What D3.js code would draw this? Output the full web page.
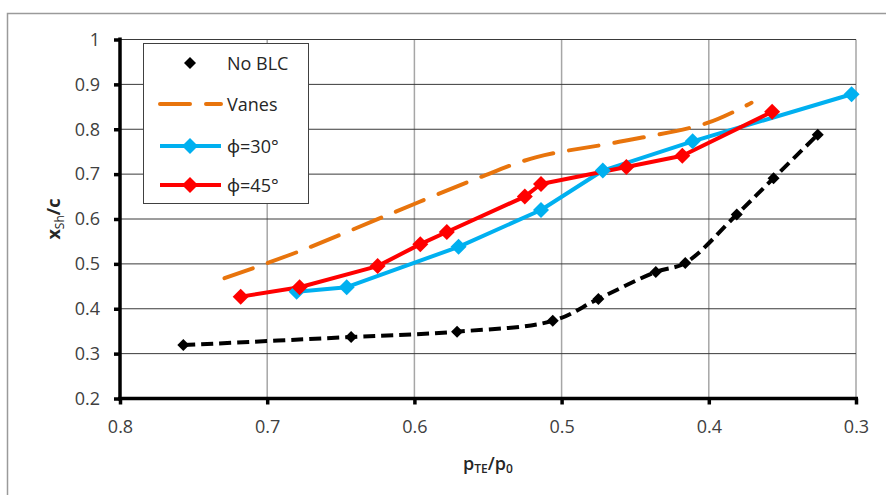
<!DOCTYPE html>
<html>
<head>
<meta charset="utf-8">
<script src="https://cdn.jsdelivr.net/npm/d3@7"></script>
<style>
  html, body { margin: 0; padding: 0; background: #fff; }
  svg { display: block; font-family: "Open Sans", "Noto Sans", sans-serif; }
</style>
</head>
<body>
<svg id="chart" width="886" height="495"></svg>
<script>
// Shock position x_Sh/c against trailing-edge pressure ratio p_TE/p_0
const noBLC = [
  [0.757, 0.319], [0.643, 0.337], [0.571, 0.349], [0.506, 0.373], [0.475, 0.422],
  [0.436, 0.482], [0.416, 0.502], [0.381, 0.610], [0.356, 0.691], [0.326, 0.788]
];
const vanes = [
  [0.729, 0.468], [0.679, 0.527], [0.618, 0.609], [0.557, 0.691], [0.517, 0.738],
  [0.464, 0.770], [0.401, 0.814], [0.371, 0.859]
];
const phi30 = [
  [0.680, 0.438], [0.646, 0.448], [0.570, 0.538], [0.514, 0.620], [0.472, 0.708],
  [0.411, 0.773], [0.303, 0.878]
];
const phi45 = [
  [0.718, 0.427], [0.678, 0.448], [0.625, 0.495], [0.596, 0.544], [0.578, 0.571],
  [0.525, 0.650], [0.514, 0.678], [0.456, 0.716], [0.418, 0.741], [0.357, 0.839]
];
const xTicks = [0.8, 0.7, 0.6, 0.5, 0.4, 0.3];
const xTickLabels = ["0.8", "0.7", "0.6", "0.5", "0.4", "0.3"];
const yTicks = [0.2, 0.3, 0.4, 0.5, 0.6, 0.7, 0.8, 0.9, 1.0];
const yTickLabels = ["0.2", "0.3", "0.4", "0.5", "0.6", "0.7", "0.8", "0.9", "1"];
const seriesNames = ["No BLC", "Vanes", "\u03d5=30\u00b0", "\u03d5=45\u00b0"];

const svg = d3.select("#chart");
const plotL = 120, plotR = 856, plotT = 39.5, plotB = 398.5;

const x = d3.scaleLinear().domain([0.8, 0.3]).range([plotL, plotR]);
const y = d3.scaleLinear().domain([0.2, 1.0]).range([plotB, plotT]);

// outer chart frame
svg.append("rect")
  .attr("x", 7.5).attr("y", 13.5).attr("width", 900).attr("height", 500)
  .attr("fill", "none").attr("stroke", "#9a9a9a").attr("stroke-width", 1.5);

// gridlines
svg.append("g").selectAll("line").data(xTicks.slice(1))
  .join("line")
  .attr("x1", d => x(d)).attr("x2", d => x(d))
  .attr("y1", plotT).attr("y2", plotB)
  .attr("stroke", "#a6a6a6").attr("stroke-width", 1.5);
svg.append("g").selectAll("line").data(yTicks.slice(1))
  .join("line")
  .attr("x1", plotL).attr("x2", plotR)
  .attr("y1", d => y(d)).attr("y2", d => y(d))
  .attr("stroke", "#3a3a3a").attr("stroke-width", 1);

// axes
const yAxis = d3.axisLeft(y).tickValues(yTicks)
  .tickFormat((d, i) => yTickLabels[i]).tickSize(6).tickPadding(14);
const xAxis = d3.axisBottom(x).tickValues(xTicks)
  .tickFormat((d, i) => xTickLabels[i]).tickSize(6).tickPadding(16);

const gy = svg.append("g").attr("transform", `translate(${plotL},0)`).call(yAxis);
const gx = svg.append("g").attr("transform", `translate(0,${plotB})`).call(xAxis);
[gx, gy].forEach(g => {
  g.select(".domain").attr("stroke", "#000").attr("stroke-width", 3.5);
  g.selectAll(".tick line").attr("stroke", "#000").attr("stroke-width", 3.5);
  g.selectAll(".tick text").attr("fill", "#404040")
    .style("font-family", "'Open Sans', sans-serif").style("font-size", "18px");
});
gy.select(".domain").attr("d", `M0,${plotB + 2}V${plotT - 2}`);
gx.select(".domain").attr("d", `M${plotL - 2},0H${plotR + 2}`);

// series lines
const smooth = d3.line().x(d => x(d[0])).y(d => y(d[1])).curve(d3.curveCatmullRom);
const straight = d3.line().x(d => x(d[0])).y(d => y(d[1]));

svg.append("path").datum(vanes).attr("d", smooth)
  .attr("fill", "none").attr("stroke", "#E8740C").attr("stroke-width", 4)
  .attr("stroke-dasharray", "30,16").attr("stroke-linecap", "round");

svg.append("path").datum(noBLC).attr("d", smooth)
  .attr("fill", "none").attr("stroke", "#000").attr("stroke-width", 4)
  .attr("stroke-dasharray", "12,6");

svg.append("path").datum(phi30).attr("d", straight)
  .attr("fill", "none").attr("stroke", "#00B0F0").attr("stroke-width", 4)
  .attr("stroke-linejoin", "round");

svg.append("path").datum(phi45).attr("d", straight)
  .attr("fill", "none").attr("stroke", "#FF0000").attr("stroke-width", 4)
  .attr("stroke-linejoin", "round");

// diamond markers
const diamond = r => `M0,${-r}L${r},0L0,${r}L${-r},0Z`;
function markers(data, r, color) {
  svg.append("g").selectAll("path").data(data).join("path")
    .attr("transform", d => `translate(${x(d[0])},${y(d[1])})`)
    .attr("d", diamond(r)).attr("fill", color);
}
markers(noBLC, 6, "#000");
markers(phi30, 8, "#00B0F0");
markers(phi45, 8, "#FF0000");

// legend
const lg = svg.append("g");
lg.append("rect").attr("x", 143.5).attr("y", 43.5).attr("width", 165).attr("height", 160)
  .attr("fill", "#fff").attr("stroke", "#404040").attr("stroke-width", 1);
const rows = [63, 104, 146, 185];
const lx1 = 160, lx2 = 221, lmid = 190;
lg.append("path").attr("transform", `translate(${lmid},${rows[0]})`).attr("d", diamond(6)).attr("fill", "#000");
lg.append("line").attr("x1", lx1).attr("x2", lx2).attr("y1", rows[1]).attr("y2", rows[1])
  .attr("stroke", "#E8740C").attr("stroke-width", 4).attr("stroke-dasharray", "30,16")
  .attr("stroke-linecap", "round");
lg.append("line").attr("x1", lx1).attr("x2", lx2).attr("y1", rows[2]).attr("y2", rows[2])
  .attr("stroke", "#00B0F0").attr("stroke-width", 4);
lg.append("path").attr("transform", `translate(${lmid},${rows[2]})`).attr("d", diamond(8)).attr("fill", "#00B0F0");
lg.append("line").attr("x1", lx1).attr("x2", lx2).attr("y1", rows[3]).attr("y2", rows[3])
  .attr("stroke", "#FF0000").attr("stroke-width", 4);
lg.append("path").attr("transform", `translate(${lmid},${rows[3]})`).attr("d", diamond(8)).attr("fill", "#FF0000");
lg.selectAll("text.lab").data(seriesNames).join("text")
  .attr("class", "lab")
  .attr("x", 227).attr("y", (d, i) => rows[i] + 6.5)
  .attr("fill", "#262626").style("font-size", "18px")
  .text(d => d);

// axis titles
const yt = svg.append("text")
  .attr("transform", `translate(60,${(plotT + plotB) / 2}) rotate(-90)`)
  .attr("text-anchor", "middle").attr("fill", "#262626")
  .style("font-size", "18px").style("font-weight", "bold");
yt.append("tspan").text("x");
yt.append("tspan").attr("dy", 4).style("font-size", "12px").style("font-weight", "normal").text("Sh");
yt.append("tspan").attr("dy", -4).text("/c");

const xt = svg.append("text")
  .attr("x", (plotL + plotR) / 2).attr("y", 470)
  .attr("text-anchor", "middle").attr("fill", "#262626")
  .style("font-size", "18px").style("font-weight", "600");
xt.append("tspan").text("p");
xt.append("tspan").attr("dy", 3).style("font-size", "12px").text("TE");
xt.append("tspan").attr("dy", -3).text("/p");
xt.append("tspan").attr("dy", 3).style("font-size", "12px").text("0");
</script>
</body>
</html>
